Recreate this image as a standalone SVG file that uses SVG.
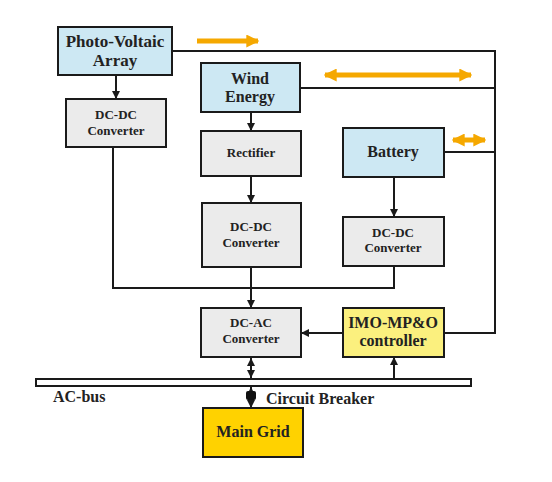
<svg xmlns="http://www.w3.org/2000/svg" width="552" height="482" viewBox="0 0 552 482">
<defs>
<style>
.box{stroke:#1a1a1a;stroke-width:2}
.blue{fill:#cde8f3}
.gray{fill:#ebebeb}
text{font-family:'Liberation Serif','Times New Roman','DejaVu Serif',serif;font-weight:bold;fill:#222;text-anchor:middle}
.big{font-size:16px}
.pv{font-size:17px}
.sm{font-size:13px}
.ln{stroke:#1a1a1a;stroke-width:2;fill:none}
.or{stroke:#f5a800;stroke-width:5;fill:none}
</style>
<marker id="ah" viewBox="0 0 10 10" refX="10" refY="5" markerWidth="4" markerHeight="4" orient="auto-start-reverse">
<path d="M0,0 L10,5 L0,10 z" fill="#1a1a1a"/>
</marker>
<marker id="oh" viewBox="0 0 10 10" refX="9" refY="5" markerWidth="2.6" markerHeight="2.6" orient="auto-start-reverse">
<path d="M0,0 L10,5 L0,10 z" fill="#f5a800"/>
</marker>
</defs>
<rect width="552" height="482" fill="#fff"/>
<g id="connectors">
<path class="ln" d="M172,51 H495 V333 H444"/>
<path class="ln" d="M300,88 H495"/>
<path class="ln" d="M444,152 H495"/>
<path class="ln" d="M116,75 V99" marker-end="url(#ah)"/>
<path class="ln" d="M251,112 V131" marker-end="url(#ah)"/>
<path class="ln" d="M251,176 V203" marker-end="url(#ah)"/>
<path class="ln" d="M394,177 V217" marker-end="url(#ah)"/>
<path class="ln" d="M113,147 V288 H394 V266"/>
<path class="ln" d="M251,267 V308" marker-end="url(#ah)"/>
<path class="ln" d="M343,333 H301" marker-end="url(#ah)"/>
<path class="ln" d="M251,358 V378" marker-start="url(#ah)" marker-end="url(#ah)"/>
<path class="ln" d="M394,378 V357" marker-end="url(#ah)"/>
<path class="ln" d="M251,387 V408" marker-start="url(#ah)" marker-end="url(#ah)"/>
<rect x="246" y="391" width="10" height="9" rx="2" fill="#111"/>
<path class="or" d="M197,41 H258" marker-end="url(#oh)"/>
<path class="or" d="M325,75 H471" marker-start="url(#oh)" marker-end="url(#oh)"/>
<path class="or" d="M453,140 H485" marker-start="url(#oh)" marker-end="url(#oh)"/>
</g>
<g id="pv"><rect class="box blue" x="58" y="27" width="114" height="48"/>
<text class="pv" x="115" y="47">Photo-Voltaic</text><text class="pv" x="115" y="66">Array</text></g>
<g id="wind"><rect class="box blue" x="201" y="63" width="99" height="49"/>
<text class="big" x="250" y="84">Wind</text><text class="big" x="250" y="102">Energy</text></g>
<g id="dcdc-pv"><rect class="box gray" x="66" y="99" width="100" height="48"/>
<text class="sm" x="116" y="119">DC-DC</text><text class="sm" x="116" y="135">Converter</text></g>
<g id="rectifier"><rect class="box gray" x="201" y="131" width="100" height="45"/>
<text class="sm" x="251" y="157">Rectifier</text></g>
<g id="dcdc-wind"><rect class="box gray" x="202" y="203" width="99" height="64"/>
<text class="sm" x="251" y="231">DC-DC</text><text class="sm" x="251" y="247">Converter</text></g>
<g id="battery"><rect class="box blue" x="343" y="128" width="101" height="49"/>
<text class="big" x="393" y="157">Battery</text></g>
<g id="dcdc-bat"><rect class="box gray" x="343" y="217" width="101" height="49"/>
<text class="sm" x="393" y="237">DC-DC</text><text class="sm" x="393" y="252">Converter</text></g>
<g id="dcac"><rect class="box gray" x="201" y="308" width="100" height="49"/>
<text class="sm" x="251" y="327">DC-AC</text><text class="sm" x="251" y="343">Converter</text></g>
<g id="controller"><rect class="box" fill="#fbf07e" x="343" y="308" width="101" height="49"/>
<text class="big" x="393" y="328">IMO-MP&amp;O</text><text class="big" x="393" y="346">controller</text></g>
<g id="acbus"><rect class="box" fill="#fff" x="36" y="379" width="435" height="7"/>
<text class="big" x="53" y="402" style="text-anchor:start">AC-bus</text></g>
<g id="breaker"><text class="big" x="266" y="404" style="text-anchor:start">Circuit Breaker</text></g>
<g id="grid"><rect class="box" fill="#ffd200" x="203" y="408" width="100" height="49"/>
<text class="big" x="253" y="437">Main Grid</text></g>
</svg>
